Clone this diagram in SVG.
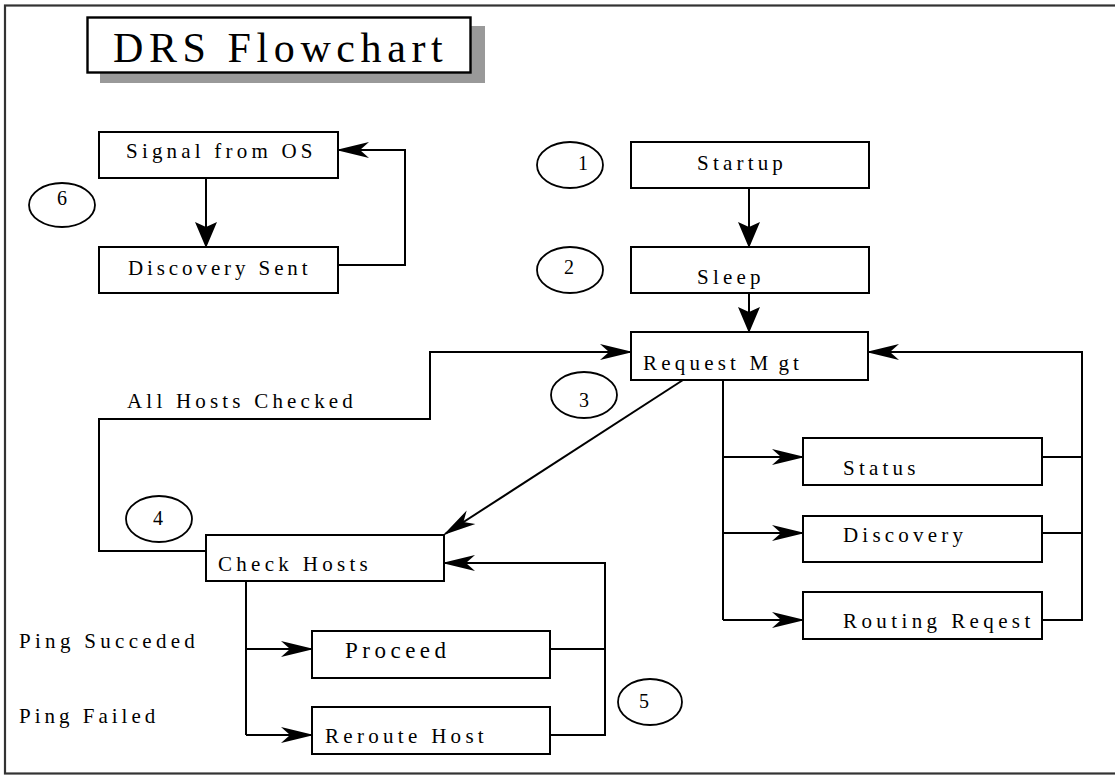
<svg xmlns="http://www.w3.org/2000/svg" width="1115" height="775" viewBox="0 0 1115 775">
<style>
.box{fill:#fff;stroke:#000;stroke-width:2}
.ell{fill:none;stroke:#000;stroke-width:1.8}
.lbl{font-family:"Liberation Serif","Times New Roman",serif;font-size:21px;letter-spacing:4.2px;fill:#000}
.num{font-family:"Liberation Serif","Times New Roman",serif;font-size:20px;fill:#000}
.ttl{font-family:"Liberation Serif","Times New Roman",serif;font-size:42px;letter-spacing:5.6px;fill:#000}
.ln{fill:none;stroke:#000;stroke-width:2}
</style>
<defs>
<marker id="ah" markerUnits="userSpaceOnUse" orient="auto" markerWidth="36" markerHeight="18" refX="31" refY="8" overflow="visible">
<path d="M33,8 L0,0 L9,8 L0,16 Z" fill="#000"/>
</marker>
<marker id="av" markerUnits="userSpaceOnUse" orient="auto" markerWidth="28" markerHeight="24" refX="25" refY="11" overflow="visible">
<path d="M26,11 L0,0 L5,11 L0,22 Z" fill="#000"/>
</marker>
</defs>
<rect x="0" y="0" width="1115" height="775" fill="#fff"/>
<rect x="5" y="5.5" width="1114" height="768" fill="none" stroke="#333" stroke-width="2.2"/>

<g id="title">
<rect x="100" y="26" width="385" height="57" fill="#999"/>
<rect x="87.5" y="17.5" width="383" height="55" fill="#fff" stroke="#000" stroke-width="2.4"/>
<text class="ttl" x="113" y="62">DRS Flowchart</text>
</g>

<g id="connectors">
<path class="ln" d="M206,178 V247" marker-end="url(#av)"/>
<path class="ln" d="M338,265 H405 V150 H338" marker-end="url(#ah)"/>
<path class="ln" d="M749,188 V247" marker-end="url(#av)"/>
<path class="ln" d="M749,293 V332" marker-end="url(#av)"/>
<path class="ln" d="M206,551 H99 V419 H430 V352 H631" marker-end="url(#ah)"/>
<path class="ln" d="M683,380 L445,534" marker-end="url(#ah)"/>
<path class="ln" d="M723,380 V620"/>
<path class="ln" d="M723,457 H803" marker-end="url(#ah)"/>
<path class="ln" d="M723,533 H803" marker-end="url(#ah)"/>
<path class="ln" d="M723,620 H803" marker-end="url(#ah)"/>
<path class="ln" d="M1042,457 H1082"/>
<path class="ln" d="M1042,533 H1082"/>
<path class="ln" d="M1042,620 H1082 V352 H868" marker-end="url(#ah)"/>
<path class="ln" d="M246,581 V735"/>
<path class="ln" d="M246,649 H312" marker-end="url(#ah)"/>
<path class="ln" d="M246,735 H312" marker-end="url(#ah)"/>
<path class="ln" d="M550,649 H605"/>
<path class="ln" d="M550,735 H605 V563 H444" marker-end="url(#ah)"/>
</g>

<g id="signal">
<rect class="box" x="99" y="132" width="239" height="46"/>
<text class="lbl" x="126" y="158">Signal from OS</text>
</g>
<g id="discovery-sent">
<rect class="box" x="99" y="247" width="239" height="46"/>
<text class="lbl" x="128" y="275" style="letter-spacing:3.9px">Discovery Sent</text>
</g>
<g id="n6">
<ellipse class="ell" cx="62" cy="205" rx="33" ry="22"/>
<text class="num" x="57" y="205">6</text>
</g>

<g id="startup">
<rect class="box" x="631" y="142" width="238" height="46"/>
<text class="lbl" x="697" y="170">Startup</text>
</g>
<g id="n1">
<ellipse class="ell" cx="570" cy="165" rx="33" ry="23"/>
<text class="num" x="578" y="170">1</text>
</g>
<g id="sleep">
<rect class="box" x="631" y="247" width="238" height="46"/>
<text class="lbl" x="697" y="284">Sleep</text>
</g>
<g id="n2">
<ellipse class="ell" cx="570" cy="270" rx="33" ry="23"/>
<text class="num" x="564" y="274">2</text>
</g>
<g id="request">
<rect class="box" x="631" y="332" width="237" height="48"/>
<text class="lbl" x="643" y="370">Request M<tspan dx="6">gt</tspan></text>
</g>
<g id="n3">
<ellipse class="ell" cx="584" cy="395" rx="33" ry="23"/>
<text class="num" x="579" y="407">3</text>
</g>

<g id="status">
<rect class="box" x="803" y="438" width="239" height="47"/>
<text class="lbl" x="843" y="475">Status</text>
</g>
<g id="discovery">
<rect class="box" x="803" y="516" width="239" height="46"/>
<text class="lbl" x="843" y="542">Discovery</text>
</g>
<g id="routing">
<rect class="box" x="803" y="592" width="239" height="47"/>
<text class="lbl" x="843" y="628" style="letter-spacing:4.4px">Routing Reqest</text>
</g>

<g id="all-hosts-label">
<text class="lbl" x="127" y="408">All Hosts Checked</text>
</g>
<g id="n4">
<ellipse class="ell" cx="159" cy="519" rx="33" ry="23"/>
<text class="num" x="153" y="525">4</text>
</g>
<g id="check-hosts">
<rect class="box" x="206" y="535" width="238" height="46"/>
<text class="lbl" x="218" y="571" style="letter-spacing:4.3px">Check Hosts</text>
</g>

<g id="ping-labels">
<text class="lbl" x="19" y="648" style="letter-spacing:4.3px">Ping Succeded</text>
<text class="lbl" x="19" y="723" style="letter-spacing:4px">Ping Failed</text>
</g>
<g id="proceed">
<rect class="box" x="312" y="631" width="238" height="47"/>
<text class="lbl" x="345" y="658" style="font-size:23px;letter-spacing:4.5px">Proceed</text>
</g>
<g id="reroute">
<rect class="box" x="312" y="707" width="238" height="47"/>
<text class="lbl" x="325" y="743" style="letter-spacing:4.3px">Reroute Host</text>
</g>
<g id="n5">
<ellipse class="ell" cx="650" cy="702" rx="32" ry="23"/>
<text class="num" x="639" y="708">5</text>
</g>
</svg>
